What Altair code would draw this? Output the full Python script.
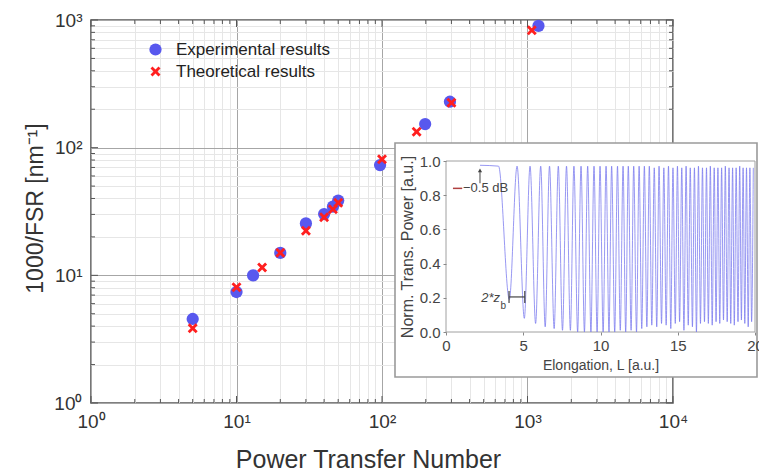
import altair as alt
import pandas as pd

# ---------------- main chart data ----------------
series_names = ["Experimental results", "Theoretical results"]
exp_x = [5, 10, 13, 20, 30, 40, 46, 50, 97, 198, 293, 1190]
exp_y = [4.55, 7.4, 10.0, 15.0, 25.5, 30.2, 34.5, 38.5, 73, 153, 229, 900]
theo_x = [5, 10, 15, 20, 30, 40, 46, 50, 100, 173, 300, 1070]
theo_y = [3.85, 8.05, 11.5, 15.0, 22.3, 28.5, 33.0, 37.0, 81, 133, 225, 830]

x_decades = [1, 10, 100, 1000, 10000]
y_decades = [1, 10, 100, 1000]
decade_text = ["10⁰", "10¹", "10²", "10³", "10⁴"]

# ---------------- inset data ----------------
flat_L = [2.2, 3.4]
flat_P = [0.975, 0.97]
peak_L = [4.60, 5.44, 6.13, 6.70, 7.27, 7.80, 8.28, 8.74, 9.17, 9.58,
          9.97, 10.36, 10.72, 11.10, 11.46, 11.80, 12.15, 12.50, 12.84, 13.16,
          13.48, 13.79, 14.10, 14.40, 14.69, 14.98, 15.26, 15.54, 15.81, 16.08,
          16.34, 16.60, 16.86, 17.11, 17.36, 17.60, 17.84, 18.08, 18.32, 18.55,
          18.78, 19.01, 19.23, 19.45, 19.67, 19.89]
peak_P = [0.97, 0.97, 0.97, 0.97, 0.97, 0.97, 0.97, 0.97, 0.97, 0.97,
          0.97, 0.97, 0.97, 0.97, 0.97, 0.97, 0.97, 0.97, 0.97, 0.97,
          0.96, 0.97, 0.96, 0.97, 0.96, 0.97, 0.96, 0.97, 0.96, 0.96,
          0.97, 0.96, 0.96, 0.97, 0.96, 0.96, 0.96, 0.97, 0.96, 0.96,
          0.96, 0.97, 0.96, 0.96, 0.96, 0.96]
trough_L = [4.10, 5.07, 5.80, 6.42, 7.00, 7.54, 8.05, 8.52, 8.96, 9.38,
            9.78, 10.17, 10.55, 10.92, 11.28, 11.63, 11.98, 12.33, 12.67, 13.00,
            13.32, 13.64, 13.95, 14.25, 14.55, 14.84, 15.12, 15.40, 15.68, 15.95,
            16.21, 16.47, 16.73, 16.98, 17.23, 17.48, 17.72, 17.96, 18.20, 18.43,
            18.66, 18.90, 19.12, 19.34, 19.56, 19.78]
trough_P = [0.19, 0.08, 0.05, 0.03, 0.02, 0.01, 0.01, 0.00, 0.00, 0.00,
            0.00, 0.00, 0.00, 0.00, 0.01, 0.00, 0.01, 0.00, 0.02, 0.03,
            0.04, 0.03, 0.05, 0.04, 0.02, 0.05, 0.06, 0.01, 0.04, 0.03,
            0.00, 0.05, 0.06, 0.05, 0.04, 0.06, 0.05, 0.07, 0.06, 0.05,
            0.04, 0.06, 0.07, 0.05, 0.03, 0.06]

FONT = "Liberation Sans"
W, H = 582, 383

# ---------------- tables ----------------
pts = pd.DataFrame({
    "x": exp_x + theo_x,
    "y": exp_y + theo_y,
    "series": [series_names[0]] * len(exp_x) + [series_names[1]] * len(theo_x),
})
x_minor = [m * d for d in x_decades[:-1] for m in range(2, 10)]
y_minor = [m * d for d in y_decades[:-1] for m in range(2, 10)]
x_all = sorted(x_decades + x_minor)
y_all = sorted(y_decades + y_minor)

curve_rows = list(zip(flat_L, flat_P))
for tl, tp, pl, pp in zip(trough_L, trough_P, peak_L, peak_P):
    curve_rows.append((tl, tp))
    curve_rows.append((pl, pp))
curve = pd.DataFrame(curve_rows, columns=["L", "P"])


def label_expr(vals, texts):
    parts = [f"datum.value == {v} ? '{t}'" for v, t in zip(vals, texts)]
    return " : ".join(parts) + " : ''"


def grid_color(vals):
    arr = "[" + ",".join(str(v) for v in vals) + "]"
    return {"condition": {"test": f"indexof({arr}, datum.value) >= 0", "value": "#a6a6a6"},
            "value": "#e6e6e6"}


xscale = alt.Scale(type="log", domain=[1, 10000], nice=False)
yscale = alt.Scale(type="log", domain=[1, 1000], nice=False)

x_axis = alt.Axis(values=x_all, labelExpr=label_expr(x_decades, decade_text),
                  grid=True, gridColor=grid_color(x_decades), gridWidth=1,
                  ticks=False, domain=False, labelFlush=False, labelOverlap=False,
                  labelFont=FONT, labelFontSize=19, labelColor="#333", labelPadding=9,
                  title="Power Transfer Number", titleFont=FONT, titleFontSize=25,
                  titleFontWeight="normal", titleColor="#333",
                  titleX=277, titleY=64, titleBaseline="alphabetic", titleAlign="center")
y_axis = alt.Axis(values=y_all, labelExpr=label_expr(y_decades, decade_text[:4]),
                  grid=True, gridColor=grid_color(y_decades), gridWidth=1,
                  ticks=False, domain=False, labelOverlap=False, labelFlush=False,
                  labelFont=FONT, labelFontSize=19, labelColor="#333", labelPadding=9,
                  title="1000/FSR [nm⁻¹]", titleFont=FONT, titleFontSize=23,
                  titleFontWeight="normal", titleColor="#333",
                  titleX=-49, titleY=188, titleAngle=-90, titleBaseline="alphabetic",
                  titleAlign="center")

XPATH = ("M-1,-0.6L-0.6,-1L0,-0.4L0.6,-1L1,-0.6L0.4,0L1,0.6L0.6,1L0,0.4"
         "L-0.6,1L-1,0.6L-0.4,0Z")
leg = alt.Legend(orient="none", legendX=56, legendY=21, title=None, padding=0,
                 labelFont=FONT, labelFontSize=17, labelColor="#222",
                 rowPadding=4, labelOffset=12, symbolStrokeWidth=0)

points = alt.Chart(pts).mark_point(filled=True, opacity=1).encode(
    x=alt.X("x:Q", scale=xscale, axis=x_axis),
    y=alt.Y("y:Q", scale=yscale, axis=y_axis),
    color=alt.Color("series:N", scale=alt.Scale(domain=series_names,
                    range=["#5858ee", "#ff1f1f"]), legend=leg),
    shape=alt.Shape("series:N", scale=alt.Scale(domain=series_names,
                    range=["circle", XPATH]), legend=leg),
    size=alt.Size("series:N", scale=alt.Scale(domain=series_names,
                  range=[150, 100]), legend=leg),
)

xt_major = pd.DataFrame({"v": x_decades})
xt_minor = pd.DataFrame({"v": x_minor})
yt_major = pd.DataFrame({"v": y_decades})
yt_minor = pd.DataFrame({"v": y_minor})


def xticks(df, ln):
    base = alt.Chart(df).mark_rule(color="#555", strokeWidth=1)
    bx = alt.X("v:Q", scale=xscale, axis=x_axis)
    return [base.encode(x=bx, y=alt.value(H), y2=alt.value(H - ln)),
            base.encode(x=bx, y=alt.value(0), y2=alt.value(ln))]


def yticks(df, ln):
    base = alt.Chart(df).mark_rule(color="#555", strokeWidth=1)
    by = alt.Y("v:Q", scale=yscale, axis=y_axis)
    return [base.encode(y=by, x=alt.value(0), x2=alt.value(ln)),
            base.encode(y=by, x=alt.value(W), x2=alt.value(W - ln))]


main = alt.layer(points, *(xticks(xt_major, 7) + xticks(xt_minor, 4) +
                           yticks(yt_major, 7) + yticks(yt_minor, 4)))

# ---------------- inset ----------------
ixs = alt.Scale(domain=[0, 20], range=[355, 664], nice=False, zero=False)
iys = alt.Scale(domain=[0, 1], range=[312, 141], nice=False, zero=False)
one = pd.DataFrame({"a": [0]})

ix_axis = alt.Axis(orient="bottom", offset=-71, values=[0, 5, 10, 15, 20], grid=False,
                   domain=False, ticks=True, tickSize=3, tickColor="#888", zindex=2,
                   labelFlush=False, labelFont=FONT, labelFontSize=15, labelColor="#444",
                   labelPadding=3,
                   title="Elongation, L [a.u.]", titleFont=FONT, titleFontSize=14,
                   titleFontWeight="normal", titleColor="#444", titlePadding=5)
iy_axis = alt.Axis(orient="left", offset=-355, values=[0, 0.2, 0.4, 0.6, 0.8, 1.0],
                   format=".1f", grid=False, domain=False, ticks=True, tickSize=3,
                   tickColor="#888", labelFlush=False, zindex=2,
                   labelFont=FONT, labelFontSize=15, labelColor="#444", labelPadding=3,
                   title="Norm. Trans. Power [a.u.]", titleFont=FONT, titleFontSize=16,
                   titleFontWeight="normal", titleColor="#444", titlePadding=4)

box = alt.Chart(one).mark_rect(fill="white", stroke="#9a9a9a", strokeWidth=1.6).encode(
    x=alt.value(304), x2=alt.value(666), y=alt.value(123), y2=alt.value(357))

frame = alt.Chart(one).mark_rect(fill=None, stroke="#a0a0a0", strokeWidth=1).encode(
    x=alt.datum(0, scale=ixs, axis=ix_axis), x2=alt.datum(20),
    y=alt.datum(0, scale=iys, axis=iy_axis), y2=alt.datum(1))

line = alt.Chart(curve).mark_line(color="#7878ee", strokeWidth=0.9, opacity=0.85,
                                  interpolate="monotone").encode(
    x=alt.X("L:Q", scale=ixs, axis=ix_axis),
    y=alt.Y("P:Q", scale=iys, axis=iy_axis),
)

# annotations (in inset data units)
ann_text = pd.DataFrame({"L": [1.1], "P": [0.84], "t": ["−0.5 dB"]})
dash = pd.DataFrame({"L": [0.45], "L2": [1.05], "P": [0.84]})
arrow = pd.DataFrame({"L": [2.2], "P": [0.87], "P2": [0.945]})
zb_text = pd.DataFrame({"L": [3.5], "P": [0.2], "t": ["2*z"]})
zb_sub = pd.DataFrame({"L": [3.52], "P": [0.15], "t": ["b"]})
zb_bar = pd.DataFrame({"L": [4.08], "L2": [5.1], "P": [0.205]})
zb_caps = pd.DataFrame({"L": [4.08, 5.1], "P": [0.17, 0.17], "P2": [0.24, 0.24]})


def ax(f):
    return alt.X(f, scale=ixs, axis=ix_axis)


def ay(f):
    return alt.Y(f, scale=iys, axis=iy_axis)


annots = [
    alt.Chart(ann_text).mark_text(align="left", baseline="middle", font=FONT,
                                  fontSize=13, color="#444").encode(
        x=ax("L:Q"), y=ay("P:Q"), text="t:N"),
    alt.Chart(dash).mark_rule(color="#b04040", strokeWidth=1.5).encode(
        x=ax("L:Q"), x2="L2:Q", y=ay("P:Q")),
    alt.Chart(arrow).mark_rule(color="#444", strokeWidth=1).encode(
        x=ax("L:Q"), y=ay("P:Q"), y2="P2:Q"),
    alt.Chart(arrow).mark_point(shape="triangle-up", filled=True, size=18,
                                color="#444", opacity=1).encode(
        x=ax("L:Q"), y=ay("P2:Q")),
    alt.Chart(zb_text).mark_text(align="right", baseline="middle", font=FONT,
                                 fontSize=13, fontStyle="italic", color="#444").encode(
        x=ax("L:Q"), y=ay("P:Q"), text="t:N"),
    alt.Chart(zb_sub).mark_text(align="left", baseline="middle", font=FONT,
                                fontSize=10, color="#444").encode(
        x=ax("L:Q"), y=ay("P:Q"), text="t:N"),
    alt.Chart(zb_bar).mark_rule(color="#444", strokeWidth=1.2).encode(
        x=ax("L:Q"), x2="L2:Q", y=ay("P:Q")),
    alt.Chart(zb_caps).mark_rule(color="#444", strokeWidth=1.2).encode(
        x=ax("L:Q"), y=ay("P:Q"), y2="P2:Q"),
]

inset = alt.layer(line, box, frame, line, *annots)

chart = alt.layer(main, inset).resolve_scale(
    x="independent", y="independent"
).properties(
    width=W, height=H,
    autosize=alt.AutoSizeParams(type="none"),
    padding={"left": 91, "top": 20, "right": 86, "bottom": 70},
    background="white",
).configure_view(stroke="#555", strokeWidth=1.6)

chart.save("out.html", embed_options={"renderer": "svg", "actions": False})
